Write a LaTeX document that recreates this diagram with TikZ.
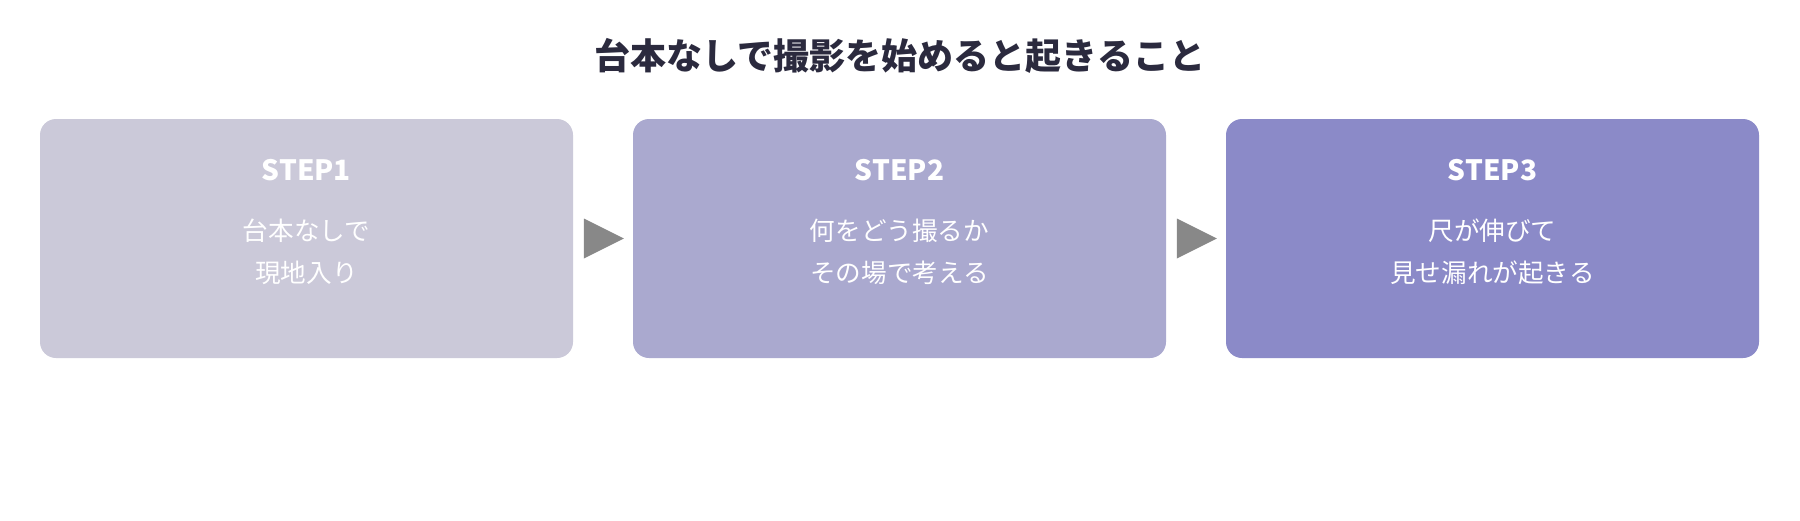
\documentclass[tikz,border=0pt]{standalone}
\usepackage{fontspec}
\setmainfont{Noto Sans CJK JP}
\usetikzlibrary{shapes.geometric, positioning, calc}
\definecolor{stepA}{HTML}{CBC9D9}
\definecolor{stepB}{HTML}{AAA9CF}
\definecolor{stepC}{HTML}{8B8AC8}
\definecolor{arrowgray}{HTML}{888888}
\definecolor{titlecol}{HTML}{2B2A3E}

\begin{document}
\begin{tikzpicture}[x=0.5pt,y=-0.5pt,
    stepbox/.style={rounded corners=8pt, minimum width=266.5pt, minimum height=119.5pt, inner sep=0pt},
    steplabel/.style={text=white, font=\bfseries\fontsize{14}{17}\selectfont},
    stepbody/.style={text=white, align=center, font=\fontsize{12.8}{21}\selectfont},
    arrowtri/.style={isosceles triangle, isosceles triangle stretches, fill=arrowgray, minimum width=20pt, minimum height=20pt, inner sep=0pt, anchor=west}]
           \useasboundingbox (0,0) rectangle (1800,520);
           \node[font=\bfseries\fontsize{18}{22}\selectfont, text=titlecol] (title) at (900,56) {台本なしで撮影を始めると起きること};
           \foreach \i/\x/\c/\la/\lb in {1/306.5/stepA/台本なしで/現地入り, 2/899.5/stepB/何をどう撮るか/その場で考える, 3/1492.5/stepC/尺が伸びて/見せ漏れが起きる}
           {
            \node[stepbox, fill=\c] (s\i) at (\x,238.5) {};
            \node[steplabel] (h\i) at (\x,170) {STEP\i};
            \node[stepbody] (b\i) at (\x,252) {\la\\\lb};
           }
           \node[arrowtri] (a1) at ($(s1.east)+(10,0)$) {};
           \node[arrowtri] (a2) at ($(s2.east)+(10,0)$) {};
        \end{tikzpicture}
\end{document}
